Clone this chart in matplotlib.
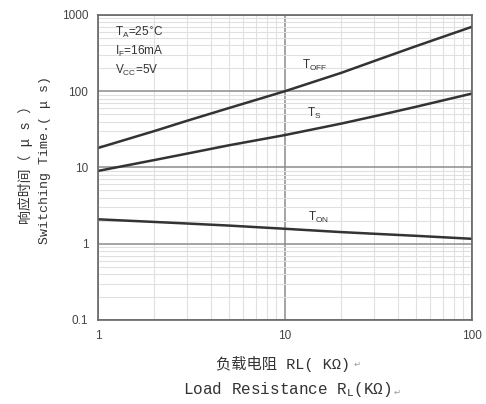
import numpy as np
import matplotlib.pyplot as plt
from matplotlib.ticker import LogLocator, NullFormatter, FixedLocator, FixedFormatter

# Données
rl = [1, 2, 3, 5, 10, 20, 32, 50, 100]
t_off = [18, 30, 41, 60, 100, 174, 263, 388, 699]
t_s = [9.0, 12.5, 15.2, 19.5, 26.6, 37.6, 48.5, 62.3, 93.1]
t_on = [2.09, 1.93, 1.84, 1.73, 1.57, 1.42, 1.34, 1.27, 1.16]

y_ticks = [0.1, 1, 10, 100, 1000]
y_labels = ['0.1', '1', '10', '100', '1000']
x_ticks = [1, 10, 100]
x_labels = ['1', '10', '100']

fig = plt.figure(figsize=(4.86, 4.04), dpi=100)
ax = fig.add_axes([0.2016, 0.208, 0.7694, 0.755])

ax.set_xscale('log')
ax.set_yscale('log')
ax.set_xlim(1, 100)
ax.set_ylim(0.1, 1000)

# grilles
ax.xaxis.set_minor_locator(LogLocator(base=10, subs=np.arange(2, 10)))
ax.yaxis.set_minor_locator(LogLocator(base=10, subs=np.arange(2, 10)))
ax.xaxis.set_minor_formatter(NullFormatter())
ax.yaxis.set_minor_formatter(NullFormatter())
ax.grid(which='minor', color='#e0e0e0', lw=0.8)
ax.grid(which='major', color='#8c8c8c', lw=1.1)
ax.set_axisbelow(True)

ax.xaxis.set_major_locator(FixedLocator(x_ticks))
ax.xaxis.set_major_formatter(FixedFormatter(x_labels))
ax.yaxis.set_major_locator(FixedLocator(y_ticks))
ax.yaxis.set_major_formatter(FixedFormatter(y_labels))
ax.tick_params(which='both', length=0, labelsize=8.5, labelcolor='#444444', pad=7)
for lab in ax.get_xticklabels() + ax.get_yticklabels():
    lab.set_family('Liberation Sans')

for s in ax.spines.values():
    s.set_color('#666666')
    s.set_linewidth(1.2)

# courbes
ax.plot(rl, t_off, color='#333333', lw=1.8)
ax.plot(rl, t_s, color='#333333', lw=1.8)
ax.plot(rl, t_on, color='#333333', lw=1.8)

lab_kw = dict(fontsize=8.5, color='#333333', family='Liberation Sans', va='center')
ax.text(12.3, 219, r'T$_{\mathregular{OFF}}$', **lab_kw)
ax.text(13.1, 51, r'T$_{\mathregular{S}}$', **lab_kw)
ax.text(13.3, 2.2, r'T$_{\mathregular{ON}}$', **lab_kw)

ax.text(1.23, 597, r'T$_{\mathregular{A}}$=25$^{\circ}$C', **lab_kw)
ax.text(1.23, 329, r'I$_{\mathregular{F}}$=16mA', **lab_kw)
ax.text(1.23, 189, r'V$_{\mathregular{CC}}$=5V', **lab_kw)

cjk = ['Noto Sans CJK SC', 'DejaVu Sans']
fams = ['Liberation Mono', 'Noto Sans CJK SC', 'DejaVu Sans']
fig.text(0.052, 0.60, '响应时间（ μ s ）', rotation=90, ha='center', va='center',
         fontsize=10, family=fams, color='#333333')
fig.text(0.092, 0.604, 'Switching Time.( μ s)', rotation=90, ha='center', va='center',
         fontsize=9.5, family=fams, color='#333333')

t1 = fig.text(0.583, 0.10, '负载电阻 RL( KΩ)', ha='center', va='center',
              fontsize=11, family=fams, color='#333333')
t2 = fig.text(0.59, 0.035, r'Load Resistance R$_{\mathregular{L}}$(KΩ)', ha='center',
              va='center', fontsize=11.5, family=fams, color='#333333')
for t in (t1, t2):
    ax.annotate('↵', xy=(1, 0.15), xycoords=t, xytext=(2, 0), textcoords='offset points',
                ha='left', va='bottom', fontsize=6, color='#999999', annotation_clip=False)

fig.savefig('out.png', dpi=100, facecolor='white')
